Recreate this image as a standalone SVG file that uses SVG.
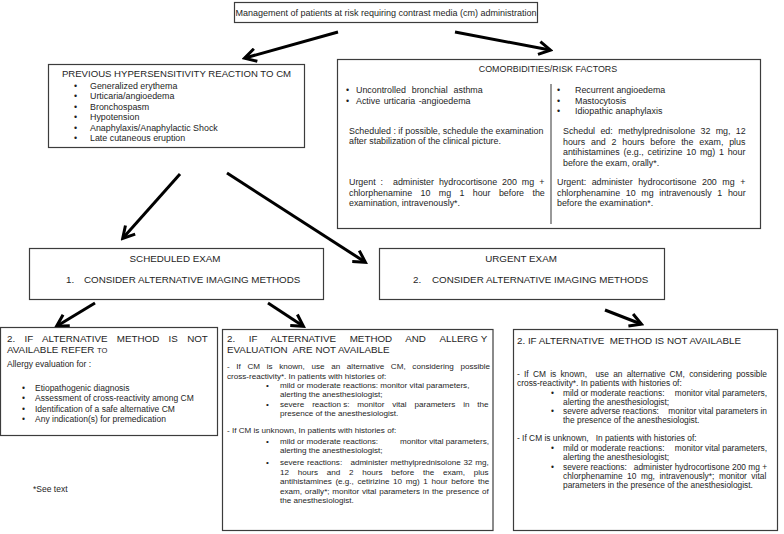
<svg xmlns="http://www.w3.org/2000/svg" width="784" height="534" viewBox="0 0 784 534">
<style>
.box{fill:#fff;stroke:#3c3c3c;stroke-width:1.2}
text{font-family:"Liberation Sans",Arial,sans-serif;fill:#1e1e1e;white-space:pre}
.top{font-size:9px}
.h{font-size:9.8px}
.h2{font-size:9.6px}
.u{font-size:8.9px}
.b{font-size:8.5px}
.b2{font-size:8.1px}
.b3{font-size:8.4px}
.sm{font-size:7.6px}
.mid{text-anchor:middle}
.end{text-anchor:end}
.conn line{stroke:#000;stroke-width:3;marker-end:url(#ah)}
.div{stroke:#555;stroke-width:1.2}
</style>
<defs>
<marker id="ah" markerUnits="userSpaceOnUse" viewBox="0 0 16 16" markerWidth="16" markerHeight="16" refX="13" refY="8" orient="auto">
<path d="M2,1.5 L13.5,8 L2,14.5" fill="none" stroke="#000" stroke-width="3"/>
</marker>
</defs>
<rect width="784" height="534" fill="#fff"/>

<g id="connectors" class="conn">
<line x1="338" y1="32" x2="245" y2="58"/>
<line x1="455" y1="32" x2="550" y2="50"/>
<line x1="180" y1="174" x2="123" y2="238"/>
<line x1="227" y1="173" x2="365" y2="262"/>
<line x1="95" y1="303" x2="57" y2="326"/>
<line x1="268" y1="303" x2="303" y2="326"/>
<line x1="605" y1="310" x2="641" y2="324"/>
</g>

<g id="top">
<rect class="box" x="234.5" y="2.5" width="303" height="20"/>
<text class="top mid" x="386" y="15.5">Management of patients at risk requiring contrast media (cm) administration</text>
</g>

<g id="previous">
<rect class="box" x="48.5" y="64.5" width="256" height="83"/>
<text class="h2 mid" x="176.5" y="77">PREVIOUS HYPERSENSITIVITY REACTION TO CM</text>
<g class="u">
<text x="74" y="88.5">•</text><text x="90" y="88.5">Generalized erythema</text>
<text x="74" y="99">•</text><text x="90" y="99">Urticaria/angioedema</text>
<text x="74" y="109.5">•</text><text x="90" y="109.5">Bronchospasm</text>
<text x="74" y="120">•</text><text x="90" y="120">Hypotension</text>
<text x="74" y="130.5">•</text><text x="90" y="130.5">Anaphylaxis/Anaphylactic Shock</text>
<text x="74" y="141">•</text><text x="90" y="141">Late cutaneous eruption</text>
</g>
</g>

<g id="comorbidities">
<rect class="box" x="337.5" y="59.5" width="423" height="169"/>
<line class="div" x1="551" y1="84" x2="551" y2="224"/>
<text class="u mid" x="548" y="72">COMORBIDITIES/RISK FACTORS</text>
<g class="u">
<text x="346" y="93">•</text><text x="356" y="93" word-spacing="3.4">Uncontrolled bronchial asthma</text>
<text x="346" y="103.5">•</text><text x="356" y="103.5" word-spacing="1">Active urticaria -angioedema</text>
<text x="349" y="134">Scheduled : if possible, schedule the examination</text>
<text x="349" y="144">after stabilization of the clinical picture.</text>
<text x="349" y="185" word-spacing="2.5">Urgent :  administer hydrocortisone 200 mg +</text>
<text x="349" y="195.5" word-spacing="5.9">chlorphenamine 10 mg 1 hour before the</text>
<text x="349" y="206">examination, intravenously*.</text>

<text x="557" y="93">•</text><text x="575" y="93">Recurrent angioedema</text>
<text x="557" y="103.5">•</text><text x="575" y="103.5">Mastocytosis</text>
<text x="557" y="114">•</text><text x="575" y="114">Idiopathic anaphylaxis</text>
<text x="563" y="134" word-spacing="2.9">Schedul ed: methylprednisolone 32 mg, 12</text>
<text x="563" y="144.5" word-spacing="3.3">hours and 2 hours before the exam, plus</text>
<text x="563" y="155" word-spacing="1.3">antihistamines (e.g., cetirizine 10 mg) 1 hour</text>
<text x="563" y="165.5">before the exam, orally*.</text>
<text x="557" y="185" word-spacing="3.1">Urgent: administer hydrocortisone 200 mg +</text>
<text x="557" y="195.5" word-spacing="3.2">chlorphenamine 10 mg intravenously 1 hour</text>
<text x="557" y="206">before the examination*.</text>
</g>
</g>

<g id="scheduled">
<rect class="box" x="29.5" y="248.5" width="294" height="51"/>
<text class="h mid" x="175" y="261.5">SCHEDULED EXAM</text>
<text class="h" x="66" y="283">1.</text>
<text class="h" x="84" y="283">CONSIDER ALTERNATIVE IMAGING METHODS</text>
</g>

<g id="urgent">
<rect class="box" x="379.5" y="248.5" width="285" height="51"/>
<text class="h mid" x="521" y="261.5">URGENT EXAM</text>
<text class="h" x="413" y="283">2.</text>
<text class="h" x="432" y="283">CONSIDER ALTERNATIVE IMAGING METHODS</text>
</g>

<g id="refer">
<rect class="box" x="0.5" y="327.5" width="217" height="108"/>
<text class="h" x="7" y="342" word-spacing="6.6">2. IF ALTERNATIVE METHOD IS NOT</text>
<text class="h" x="7" y="353">AVAILABLE REFER <tspan class="sm">TO</tspan></text>
<g class="b">
<text x="7" y="367">Allergy evaluation for :</text>
<text x="22" y="390.5">•</text><text x="35" y="390.5">Etiopathogenic diagnosis</text>
<text x="22" y="401">•</text><text x="35" y="401">Assessment of cross-reactivity among CM</text>
<text x="22" y="411.5">•</text><text x="35" y="411.5">Identification of a safe alternative CM</text>
<text x="22" y="422">•</text><text x="35" y="422">Any indication(s) for premedication</text>
</g>
</g>

<text id="note" class="b" x="33" y="492">*See text</text>

<g id="not-available-allergy">
<rect class="box" x="222.5" y="329.5" width="270.5" height="201"/>
<text class="h" x="227" y="342" word-spacing="10.9">2. IF ALTERNATIVE METHOD AND <tspan word-spacing="0">ALLERG Y</tspan></text>
<text class="h" x="227" y="353">EVALUATION  ARE NOT AVAILABLE</text>
<g class="b2">
<text x="227" y="369" word-spacing="4.4">- If CM is known, use an alternative CM, considering possible</text>
<text x="227" y="378.5">cross-reactivity*. In patients with histories of:</text>
<text x="266" y="388">•</text><text x="280" y="388">mild or moderate reactions: monitor vital parameters,</text>
<text x="280" y="397">alerting the anesthesiologist;</text>
<text x="266" y="406.5">•</text><text x="280" y="406.5" word-spacing="5.6">severe <tspan word-spacing="0">reaction s:</tspan> monitor vital parameters in the</text>
<text x="280" y="415.5">presence of the anesthesiologist.</text>
<text x="227" y="433">- If CM is unknown, In patients with histories of:</text>
<text x="266" y="443.5">•</text><text x="280" y="443.5">mild or moderate reactions:</text><text class="end" x="489" y="443.5">monitor vital parameters,</text>
<text x="280" y="452.5">alerting the anesthesiologist;</text>
<text x="266" y="465">•</text><text x="280" y="465" word-spacing="0.5">severe reactions:   administer methylprednisolone 32 mg,</text>
<text x="280" y="474.5" word-spacing="6.5">12 hours and 2 hours before the exam, plus</text>
<text x="280" y="484" word-spacing="1.4">antihistamines (e.g., cetirizine 10 mg) 1 hour before the</text>
<text x="280" y="493.5" word-spacing="0.5">exam, orally*; monitor vital parameters in the presence of</text>
<text x="280" y="503">the anesthesiologist.</text>
</g>
</g>

<g id="not-available">
<rect class="box" x="513.5" y="329.5" width="264" height="201"/>
<text class="h" x="517" y="343.5">2. IF ALTERNATIVE  METHOD IS NOT AVAILABLE</text>
<g class="b3">
<text x="517" y="376.5" word-spacing="1.9">- If CM is known,  use an alternative CM, considering possible</text>
<text x="517" y="386">cross-reactivity*. In patients with histories of:</text>
<text x="551" y="395.5">•</text><text x="563" y="395.5">mild or moderate reactions:</text><text class="end" x="767" y="395.5">monitor vital parameters,</text>
<text x="563" y="404.5">alerting the anesthesiologist;</text>
<text x="551" y="414">•</text><text x="563" y="414">severe adverse reactions:</text><text class="end" x="767" y="414">monitor vital parameters in</text>
<text x="563" y="423">the presence of the anesthesiologist.</text>
<text x="517" y="440.5">- If CM is unknown,   In patients with histories of:</text>
<text x="551" y="450.5">•</text><text x="563" y="450.5">mild or moderate reactions:</text><text class="end" x="767" y="450.5">monitor vital parameters,</text>
<text x="563" y="459.5">alerting the anesthesiologist;</text>
<text x="551" y="470">•</text><text x="563" y="470">severe reactions:   administer hydrocortisone 200 mg +</text>
<text x="563" y="479" word-spacing="2.2">chlorphenamine 10 mg, intravenously*; monitor vital</text>
<text x="563" y="488">parameters in the presence of the anesthesiologist.</text>
</g>
</g>
</svg>
